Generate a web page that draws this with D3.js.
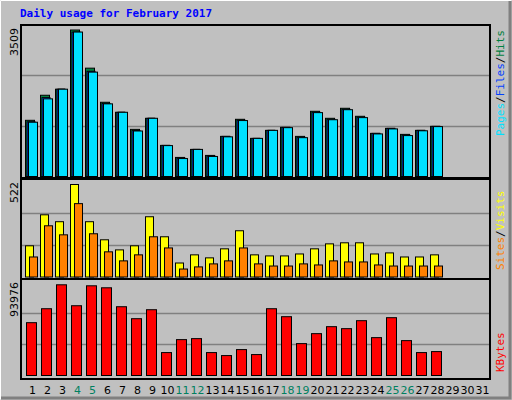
<!DOCTYPE html>
<html><head><meta charset="utf-8">
<script src="https://cdn.jsdelivr.net/npm/d3@7"></script>
<style>body{margin:0;background:#fff}</style></head>
<body><svg id="c" width="512" height="400"></svg>
<script>
const days = d3.range(1, 32);
const weekendDays = [4,5,11,12,18,19,25,26];
const hits  = [1346,1946,2091,3509,2595,1778,1538,1129,1394,745,457,649,505,961,1370,913,1105,1177,961,1562,1394,1634,1442,1033,1153,1009,1105,1201];
const files = [1310,1890,2091,3460,2520,1750,1538,1100,1394,745,440,649,490,961,1350,913,1105,1177,940,1540,1370,1610,1420,1033,1153,990,1105,1201];
const pages = [1300,1860,2091,3460,2500,1740,1538,1090,1394,740,430,649,480,950,1340,913,1105,1170,930,1530,1360,1600,1410,1020,1140,980,1095,1195];
const visits = [176,351,312,522,312,210,153,176,340,227,79,125,108,159,261,125,119,119,130,159,187,193,193,130,136,113,113,125];
const sites  = [113,289,238,414,244,142,91,125,227,164,45,57,74,91,164,74,62,62,74,68,91,85,85,68,62,62,62,62];
const kbytes = [54730,69190,93976,72290,92940,90880,71260,58860,68160,23750,37180,38210,23750,20650,26850,21690,69190,60930,33050,43370,50600,48540,56800,39240,59900,36140,23750,24780];
const maxLabels = ["3509","522","93976"];

const svg = d3.select("#c");
svg.append("rect").attr("width",512).attr("height",400).attr("fill","#c0c0c0");
svg.append("path").attr("d","M0.5,399.5V0.5H511.5").attr("stroke","#fff").attr("fill","none");
svg.append("path").attr("d","M1,398H510V1").attr("stroke","#808080").attr("stroke-width",3).attr("fill","none");
svg.append("text").attr("x",20).attr("y",17).text("Daily usage for February 2017")
  .attr("font-family","DejaVu Sans Mono").attr("font-weight","bold").attr("font-size",11).attr("fill","#0000ff");

const x = d3.scaleBand().domain(days).range([23,488]).padding(0);
const L = 21, R = 490;

function panel(top, bottom, base, maxY, maxV, label) {
  svg.append("rect").attr("x",L).attr("y",top).attr("width",R-L).attr("height",bottom-top)
    .attr("fill","#c0c0c0").attr("stroke","#000").attr("stroke-width",2);
  const y = d3.scaleLinear().domain([0,maxV]).range([base,maxY]);
  const h = base - maxY;
  [1/3,2/3].forEach(f=>{
    const gy = Math.round(base - h*f*1.03)+0.5;
    svg.append("line").attr("x1",L+1).attr("x2",R-1).attr("y1",gy).attr("y2",gy).attr("stroke","#808080").attr("stroke-width",1.5);
  });
  svg.append("text").attr("transform",`translate(18,${top+3}) rotate(-90)`).attr("text-anchor","end")
    .attr("font-family","DejaVu Sans").attr("font-size",11).attr("fill","#000").text(label);
  return y;
}
function bars(data, y, off, w, color) {
  svg.append("g").selectAll("rect").data(data).join("rect")
    .attr("x",(d,i)=>x(i+1)+off+0.5).attr("width",w)
    .attr("y",d=>y(d)+0.5).attr("height",d=>y(0)-y(d))
    .attr("fill",color).attr("stroke","#000").attr("stroke-width",1);
}
const y1 = panel(25,178,176,29.5,3509,maxLabels[0]);
bars(hits,y1,2,9,"#008040");
bars(files,y1,3.5,8,"#0040ff");
bars(pages,y1,5,9,"#00e0ff");
const y2 = panel(179,279,276.5,184,522,maxLabels[1]);
bars(visits,y2,2,8,"#ffff00");
bars(sites,y2,6,8,"#ff8000");
const y3 = panel(279,379,375,284.3,93976,maxLabels[2]);
bars(kbytes,y3,3,10,"#ff0000");

svg.append("g").selectAll("text").data(days).join("text")
  .attr("x",d=>x(d)+x.bandwidth()/2+2).attr("y",394).attr("text-anchor","middle")
  .attr("font-family","DejaVu Sans").attr("font-size",11)
  .attr("fill",d=>weekendDays.includes(d)?"#008060":"#000").text(d=>d);

function rlabel(yBottom, parts) {
  const t = svg.append("text").attr("transform",`translate(504,${yBottom}) rotate(-90)`)
    .attr("font-family","DejaVu Sans Mono").attr("font-size",11);
  parts.forEach(([s,c])=>t.append("tspan").attr("fill",c).text(s));
}
rlabel(136,[["Pages","#00e0ff"],["/","#000"],["Files","#0040ff"],["/","#000"],["Hits","#008040"]]);
rlabel(270,[["Sites","#ff8000"],["/","#000"],["Visits","#ffff00"]]);
rlabel(372,[["KBytes","#ff0000"]]);
</script></body></html>
